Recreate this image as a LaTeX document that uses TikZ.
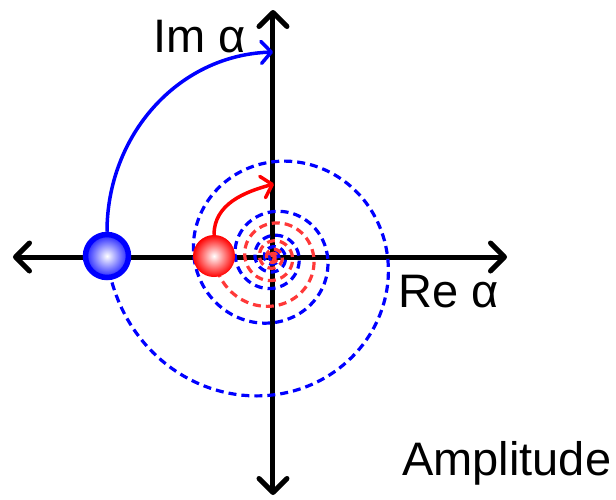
\documentclass[tikz,border=0pt]{standalone}
\usepackage{fontspec}
\setmainfont{Liberation Sans}
\usetikzlibrary{arrows.meta, positioning, calc}
\definecolor{phaseblue}{HTML}{0000FF}
\definecolor{phasered}{HTML}{FF0000}
\definecolor{phaseredlight}{HTML}{FF3838}

\begin{document}
\begin{tikzpicture}[
  x=1pt, y=1pt,
  axis/.style={line width=5pt,
    {Straight Barb[length=14pt, width=28pt, round]}-{Straight Barb[length=14pt, width=28pt, round]}},
  spiral/.style={line width=3.2pt, dash pattern=on 8pt off 5pt},
  swing/.style={line width=3.5pt, -{Straight Barb[length=10pt, width=22pt, round]}},
  axlabel/.style={font=\fontsize{47}{50}\selectfont, inner sep=0pt, anchor=base west},
  ball/.style={circle, inner sep=0pt, shading=radial, inner color=white}
]
  \useasboundingbox (-273,-242) rectangle (343,257);

  % Axes
  \coordinate (xl) at (-260,0);
  \coordinate (xr) at (234,0);
  \coordinate (yt) at (0,247);
  \coordinate (yb) at (0,-238);
  \draw[axis] (xl) -- (xr);
  \draw[axis] (yb) -- (yt);

  % Spirals (one per ball)
  \foreach \r/\c in {166/phaseblue, 59/phaseredlight} {
    \draw[spiral, \c] plot[domain=180:2340, samples=700, smooth]
      ({\r*exp(-0.118*(\x-180)/57.2958)*cos(\x)},
       {\r*exp(-0.118*(\x-180)/57.2958)*sin(\x)});
  }

  % Balls
  \node[ball, minimum size=43pt, outer color=phaseblue!88, draw=phaseblue,
    line width=5.5pt] (blueball) at (-166,1) {};
  \node[ball, minimum size=42pt, outer color=phasered] (redball) at (-59,1) {};

  % Rotation arrows
  \coordinate (bluetip) at (0,205);
  \coordinate (redtip) at (1,73);
  \draw[swing, phaseblue] (blueball.north) to[out=90, in=182] (bluetip);
  \draw[swing, phasered] (redball.north) to[out=90, in=195] (redtip);

  % Labels
  \node[axlabel] (imlabel) at (-120,205) {Im α};
  \node[axlabel] (relabel) at (125,-50) {Re α};
  \node[axlabel] (amplabel) at (129,-218) {Amplitude};
\end{tikzpicture}
\end{document}
